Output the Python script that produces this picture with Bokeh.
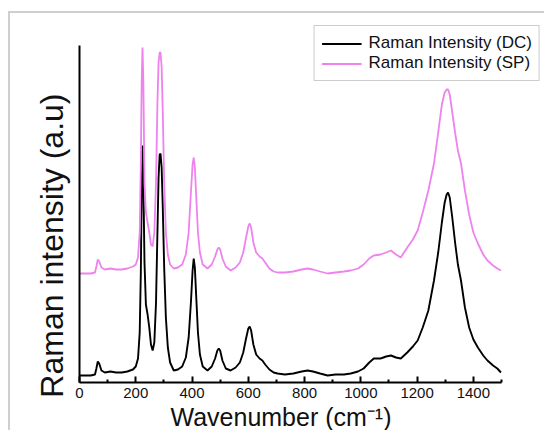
from bokeh.plotting import figure
from bokeh.models import Range1d, FixedTicker, Legend, LegendItem, Title
from bokeh.embed import file_html
from bokeh.resources import INLINE

# Wavenumber (cm^-1)
wn = [0, 20, 40, 55, 60, 65, 70, 78, 90, 110, 130, 150, 170, 190, 200, 208, 214, 218, 221, 224,
      227, 231, 236, 242, 248, 254, 260, 266, 272, 277, 281, 285, 288, 292, 296, 301, 307, 314, 322,
      335, 350, 365, 378, 388, 396, 402, 406, 410, 415, 421, 428, 438, 455, 470, 482, 490, 495, 500,
      508, 520, 537, 555, 570, 582, 592, 600, 605, 610, 618, 628, 640, 650, 660, 675, 690, 704, 730,
      760, 790, 811, 830, 855, 882, 910, 940, 964, 990, 1010, 1030, 1046, 1070, 1090, 1107, 1125,
      1142, 1165, 1185, 1202, 1220, 1240, 1260, 1275, 1288, 1298, 1305, 1310, 1316, 1325, 1335,
      1345, 1356, 1370, 1385, 1400, 1416, 1435, 1450, 1470, 1485, 1498]

# Raman intensity, DC (a.u.)
dc = [7, 7, 7, 8, 14, 21, 19, 12, 10, 11, 10, 10, 11, 13, 16, 24, 50, 110, 190, 237,
      200, 120, 78, 68, 55, 38, 32, 40, 80, 150, 205, 228, 229, 215, 175, 115, 65, 35, 20,
      12, 13, 16, 25, 45, 80, 112, 124, 115, 85, 50, 28, 16, 12, 16, 24, 32, 34, 32,
      22, 14, 12, 15, 20, 30, 44, 54, 56, 52, 38, 28, 24, 22, 18, 13, 10, 9, 8,
      9, 11, 12, 11, 9, 7, 8, 8, 9, 11, 14, 20, 24, 24, 26, 27, 25,
      24, 30, 36, 42, 55, 72, 102, 130, 160, 180, 188, 190, 185, 165, 140,
      118, 102, 75, 55, 43, 35, 27, 22, 17, 14, 10]

# Raman intensity, SP (a.u.)
sp = [109, 109, 109, 110, 116, 123, 121, 115, 113, 114, 113, 113, 114, 116, 118, 125, 150, 220, 300, 335,
      300, 200, 170, 160, 150, 138, 136, 150, 200, 280, 320, 330, 330, 315, 270, 200, 150, 128, 118,
      114, 115, 118, 128, 150, 190, 218, 225, 215, 185, 150, 130, 118, 114, 118, 126, 133, 135, 133,
      124, 116, 112, 115, 120, 130, 145, 156, 159, 155, 140, 130, 126, 124, 120, 114, 111, 110, 110,
      111, 113, 114, 113, 111, 109, 110, 111, 112, 114, 118, 124, 127, 128, 130, 132, 128,
      125, 135, 143, 152, 170, 192, 219, 250, 278, 290, 293, 293, 288, 270, 250,
      232, 219, 192, 168, 150, 139, 128, 122, 117, 114, 112]

series_names = ["Raman Intensity (DC)", "Raman Intensity (SP)"]
x_major = [0, 200, 400, 600, 800, 1000, 1200, 1400]
x_minor = [100, 300, 500, 700, 900, 1100, 1300, 1500]
x_label = "Wavenumber (cm\u207b\u00b9)"
y_label = "Raman intensity (a.u)"

p = figure(width=544, height=430, output_backend="svg", toolbar_location=None,
           x_range=Range1d(0, 1638.6), y_range=Range1d(0, 357),
           min_border_left=79, min_border_right=4, min_border_top=25, min_border_bottom=48)

r1 = p.line(wn, dc, line_color="black", line_width=1.9)
r2 = p.line(wn, sp, line_color="#EE82EE", line_width=1.8)

p.grid.visible = False
p.outline_line_color = None
p.background_fill_color = "white"
p.border_fill_alpha = 0
p.styles = {
    "background": "linear-gradient(#cfcfcf,#cfcfcf) 8px 11px / 2px 419px no-repeat, "
                  "linear-gradient(#cfcfcf,#cfcfcf) 8px 11px / 536px 2px no-repeat, white"
}

xa = p.xaxis[0]
xa.bounds = (0, 1500)
xa.ticker = FixedTicker(ticks=x_major, minor_ticks=x_minor)
xa.major_label_text_font = "Liberation Sans"
xa.major_label_text_font_size = "15px"
xa.major_label_text_color = "#111111"
xa.major_label_standoff = 5
xa.axis_line_width = 2
xa.major_tick_in = 6
xa.major_tick_out = 0
xa.minor_tick_in = 3
xa.minor_tick_out = 0
xa.major_tick_line_width = 2
xa.minor_tick_line_width = 2

ya = p.yaxis[0]
ya.bounds = (0, 337)
ya.ticker = FixedTicker(ticks=[])
ya.axis_line_width = 2
ya.major_tick_line_color = None
ya.minor_tick_line_color = None
ya.major_tick_out = 0
ya.major_tick_in = 0

xt = Title(text=x_label, align="left", offset=91, standoff=0, text_color="#111111",
           text_font="Liberation Sans", text_font_style="normal", text_font_size="25px")
p.add_layout(xt, "below")

yt = Title(text=y_label, align="right", offset=68, standoff=20, text_color="#111111",
           text_font="Liberation Sans", text_font_style="normal", text_font_size="32px")
p.add_layout(yt, "left")

legend = Legend(items=[LegendItem(label=series_names[0], renderers=[r1]),
                       LegendItem(label=series_names[1], renderers=[r2])],
                location="top_right")
legend.label_text_font = "Liberation Sans"
legend.label_text_font_size = "17px"
legend.label_text_color = "#111111"
legend.border_line_color = "#9a9a9a"
legend.border_line_width = 1
legend.glyph_width = 40
legend.glyph_height = 17
legend.label_height = 17
legend.spacing = 0
legend.padding = 7
legend.margin = 0
legend.label_standoff = 7
legend.background_fill_alpha = 1
p.add_layout(legend)

open("out.html", "w").write(file_html(p, INLINE))
